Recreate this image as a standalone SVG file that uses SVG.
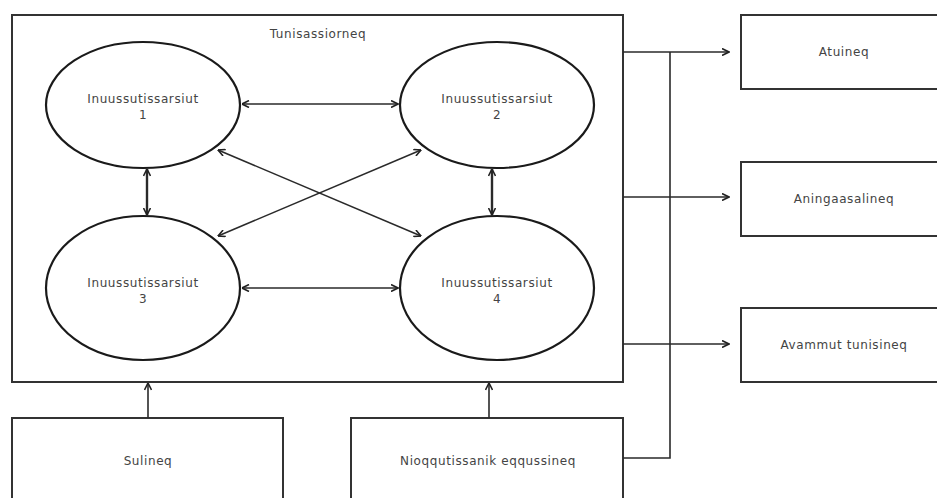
<svg xmlns="http://www.w3.org/2000/svg" width="937" height="498" viewBox="0 0 937 498">
<defs>
<marker id="ah" viewBox="0 0 8 8" refX="7.5" refY="4" markerWidth="8" markerHeight="8" markerUnits="userSpaceOnUse" orient="auto-start-reverse">
<path d="M0.5,0.5 L7.5,4 L0.5,7.5" fill="none" stroke="#222" stroke-width="1.6"/>
</marker>
<style>
.box{fill:#fff;stroke:#333;stroke-width:2}
.ell{fill:#fff;stroke:#1a1a1a;stroke-width:2.2}
.t{font-family:"DejaVu Sans","Verdana",sans-serif;font-size:12px;letter-spacing:0.6px;fill:#444;text-anchor:middle}
.c{fill:none;stroke:#2a2a2a;stroke-width:1.6}
.a{marker-end:url(#ah)}
.ab{marker-start:url(#ah);marker-end:url(#ah)}
</style>
</defs>
<rect width="937" height="498" fill="#fff"/>
<g id="tunisassiorneq">
<rect class="box" x="12" y="15" width="611" height="367"/>
<text class="t" x="318" y="38">Tunisassiorneq</text>
</g>
<g id="inuussutissarsiut1">
<ellipse class="ell" cx="143" cy="105" rx="97" ry="63"/>
<text class="t" x="143" y="103">Inuussutissarsiut</text>
<text class="t" x="143" y="119">1</text>
</g>
<g id="inuussutissarsiut2">
<ellipse class="ell" cx="497" cy="105" rx="97" ry="63"/>
<text class="t" x="497" y="103">Inuussutissarsiut</text>
<text class="t" x="497" y="119">2</text>
</g>
<g id="inuussutissarsiut3">
<ellipse class="ell" cx="143" cy="288" rx="97" ry="72"/>
<text class="t" x="143" y="287">Inuussutissarsiut</text>
<text class="t" x="143" y="303">3</text>
</g>
<g id="inuussutissarsiut4">
<ellipse class="ell" cx="497" cy="288" rx="97" ry="72"/>
<text class="t" x="497" y="287">Inuussutissarsiut</text>
<text class="t" x="497" y="303">4</text>
</g>
<g id="atuineq">
<rect class="box" x="741" y="15" width="210" height="74"/>
<text class="t" x="844" y="56">Atuineq</text>
</g>
<g id="aningaasalineq">
<rect class="box" x="741" y="162" width="210" height="74"/>
<text class="t" x="844" y="203">Aningaasalineq</text>
</g>
<g id="avammut">
<rect class="box" x="741" y="308" width="210" height="74"/>
<text class="t" x="844" y="349">Avammut tunisineq</text>
</g>
<g id="sulineq">
<rect class="box" x="12" y="418" width="271" height="90"/>
<text class="t" x="148" y="465">Sulineq</text>
</g>
<g id="nioqqutissanik">
<rect class="box" x="351" y="418" width="272" height="90"/>
<text class="t" x="488" y="465">Nioqqutissanik eqqussineq</text>
</g>
<g id="connectors">
<line class="c ab" x1="242" y1="104" x2="398" y2="104"/>
<line class="c ab" x1="242" y1="288" x2="398" y2="288"/>
<line class="c ab" x1="147" y1="169" x2="147" y2="215" style="stroke-width:2.4"/>
<line class="c ab" x1="492" y1="169" x2="492" y2="215" style="stroke-width:2.4"/>
<line class="c ab" x1="218" y1="150" x2="421" y2="236"/>
<line class="c ab" x1="218" y1="236" x2="421" y2="150"/>
<line class="c a" x1="148" y1="418" x2="148" y2="383"/>
<line class="c a" x1="489" y1="418" x2="489" y2="383"/>
<line class="c a" x1="623" y1="52" x2="729" y2="52"/>
<line class="c a" x1="623" y1="197" x2="729" y2="197"/>
<line class="c a" x1="623" y1="344" x2="729" y2="344"/>
<polyline class="c" points="623,458 670,458 670,52"/>
</g>
</svg>
